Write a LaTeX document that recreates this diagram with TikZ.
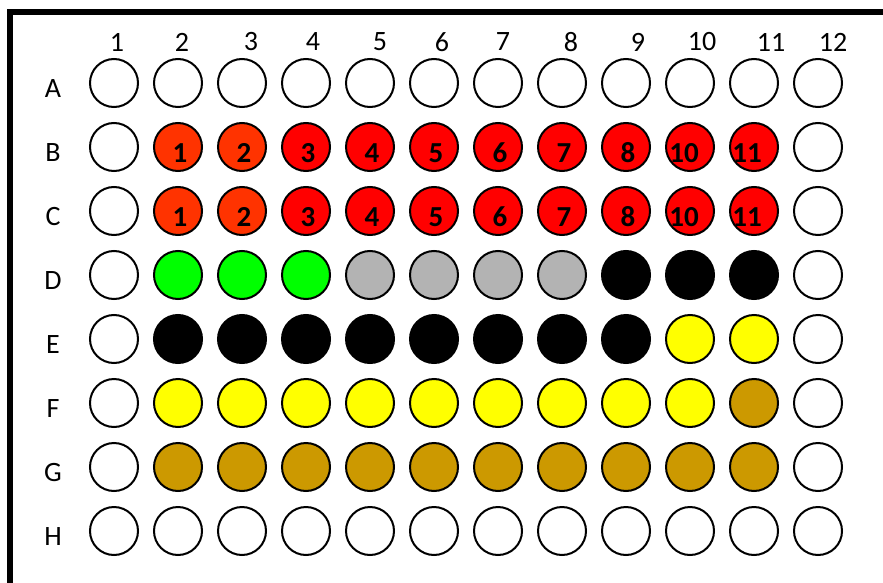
\documentclass[tikz,border=0pt]{standalone}
\usepackage{fontspec}
\setmainfont{Carlito}
\usetikzlibrary{positioning}
\definecolor{naranja}{RGB}{255,51,0}
\definecolor{rojo}{RGB}{255,0,0}
\definecolor{verde}{RGB}{0,255,0}
\definecolor{gris}{RGB}{179,179,179}
\definecolor{amarillo}{RGB}{255,255,0}
\definecolor{ocre}{RGB}{204,153,0}

\begin{document}
\begin{tikzpicture}[
        x=1pt, y=-1pt,
        pozo/.style={
            circle,
            draw=black,
            line width=2pt,
            minimum size=48pt,
            inner sep=0pt
        },
        numero/.style={
            font=\fontsize{29}{32}\selectfont\bfseries,
            text=black,
            inner sep=0pt
        },
        rotulo/.style={
            font=\fontsize{28}{32}\selectfont,
            text=black,
            inner sep=0pt
        }
    ]
        \useasboundingbox (0,0) rectangle (883,583);
        % marco de la placa
        \draw[line width=6pt] (10,583) |- (883,12);

        % pocillos: fila/desplazamiento/desde/hasta/relleno
        \foreach \fila/\r/\desde/\hasta/\relleno in {
            A/0/1/12/white,
            B/1/1/1/white, B/1/2/3/naranja, B/1/4/11/rojo, B/1/12/12/white,
            C/2/1/1/white, C/2/2/3/naranja, C/2/4/11/rojo, C/2/12/12/white,
            D/3/1/1/white, D/3/2/4/verde, D/3/5/8/gris, D/3/9/11/black, D/3/12/12/white,
            E/4/1/1/white, E/4/2/9/black, E/4/10/11/amarillo, E/4/12/12/white,
            F/5/1/1/white, F/5/2/10/amarillo, F/5/11/11/ocre, F/5/12/12/white,
            G/6/1/1/white, G/6/2/11/ocre, G/6/12/12/white,
            H/7/1/12/white} {
            \foreach \c in {\desde,...,\hasta} {
                \node[pozo, fill=\relleno] (\fila\c) at ({114+64*(\c-1)},{83+64*\r}) {};
            }
        }

        % rotulos de filas
        \foreach \fila [count=\r from 0] in {A,B,C,D,E,F,G,H} {
            \node[rotulo] (fila\fila) at (53,{89+64*\r}) {\fila};
        }

        % rotulos de columnas
        \foreach \x [count=\n] in {117,182,251,313,380,442,503,571,638,702,771,833} {
            \node[rotulo] (col\n) at (\x,42) {\n};
        }

        % numeros de muestra en B y C
        \foreach \fila in {B,C} {
            \foreach \c/\t/\dx in {2/1/2,3/2/2,4/3/2,5/4/2,6/5/2,7/6/2,8/7/2,9/8/2,10/10/-6,11/11/-7} {
                \node[numero] (n\fila\c) at ([xshift=\dx pt, yshift=-6pt]\fila\c.center) {\t};
            }
        }
    \end{tikzpicture}
\end{document}
